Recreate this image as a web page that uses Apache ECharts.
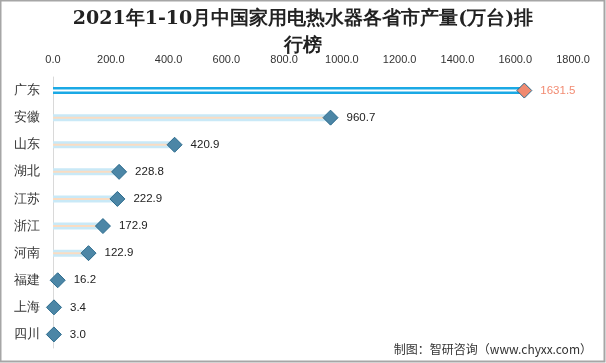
<!DOCTYPE html>
<html><head><meta charset="utf-8">
<script src="https://cdn.jsdelivr.net/npm/echarts@6/dist/echarts.min.js"></script>
<style>html,body{margin:0;padding:0;background:#fff}#c{width:606px;height:363px}</style>
</head><body><div id="c"></div>
<script>
const provinces = ['广东','安徽','山东','湖北','江苏','浙江','河南','福建','上海','四川'];
const values = [1631.5, 960.7, 420.9, 228.8, 222.9, 172.9, 122.9, 16.2, 3.4, 3.0];
const axisTicks = [0, 200, 400, 600, 800, 1000, 1200, 1400, 1600, 1800];
const highlightIndex = 0;

const chart = echarts.init(document.getElementById('c'));
const bandData = values.map((v, i) => i === highlightIndex
  ? { value: v, itemStyle: { color: '#1aa9e5' } } : v);
const lineData = values.map((v, i) => i === highlightIndex
  ? { value: v, itemStyle: { color: '#ffffff' } } : v);
const pointData = values.map((v, i) => i === highlightIndex
  ? { value: v, itemStyle: { color: '#f08a70' }, label: { color: '#f28b72' } } : v);

chart.setOption({
  animation: false,
  title: {
    text: '2021年1-10月中国家用电热水器各省市产量(万台)排\n行榜',
    left: 'center', top: 1,
    textStyle: { fontFamily: 'DejaVu Serif, serif', fontWeight: 'bold', fontSize: 19, color: '#222', lineHeight: 27 }
  },
  graphic: [
    { type: 'rect', shape: { x: 0.5, y: 0.5, width: 604, height: 361 }, style: { fill: 'none', stroke: '#a6a6a6', lineWidth: 2 }, silent: true },
    { type: 'text', right: 14, bottom: 8, style: { text: '制图：智研咨询（www.chyxx.com）', fontSize: 12, fill: '#333', fontFamily: 'Noto Sans CJK SC' } }
  ],
  grid: { left: 53, right: 33, top: 77, bottom: 15, containLabel: false },
  xAxis: {
    type: 'value', position: 'top', min: axisTicks[0], max: axisTicks[axisTicks.length - 1], interval: 200,
    axisLine: { show: false }, axisTick: { show: false }, splitLine: { show: false },
    axisLabel: { color: '#333', fontSize: 11, margin: 12, formatter: v => v.toFixed(1) }
  },
  yAxis: {
    type: 'category', data: provinces, inverse: true,
    axisLine: { show: true, lineStyle: { color: '#d9d9d9', width: 1 } },
    axisTick: { show: false },
    axisLabel: { color: '#333', fontSize: 13, margin: 13 }
  },
  series: [
    { type: 'pictorialBar', data: bandData, symbol: 'rect', symbolSize: ['100%', 7], barGap: '-100%',
      itemStyle: { color: '#c9e9f7' }, silent: true, z: 1 },
    { type: 'pictorialBar', data: lineData, symbol: 'rect', symbolSize: ['100%', 2], barGap: '-100%',
      itemStyle: { color: '#fadcc2' }, silent: true, z: 2 },
    { type: 'scatter', data: pointData, symbol: 'diamond', symbolSize: 15, z: 5,
      itemStyle: { color: '#4c86a6', borderColor: '#2a6a8c', borderWidth: 1, opacity: 1 },
      label: { show: true, position: 'right', distance: 8, color: '#222', fontSize: 11.5, formatter: p => Number(p.value).toFixed(1) } }
  ]
});
</script></body></html>
